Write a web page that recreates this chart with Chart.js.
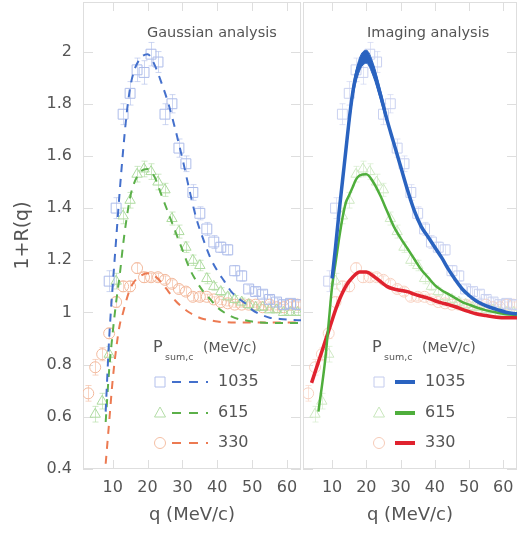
<!DOCTYPE html>
<html>
<head>
<meta charset="utf-8">
<script src="https://cdn.jsdelivr.net/npm/chart.js@4.4.0/dist/chart.umd.min.js"></script>
<style>
  body { margin: 0; background: #fff; }
  #wrap { position: relative; width: 519px; height: 533px; }
  #gaussCanvas { position: absolute; left: 0; top: 0; }
  #imagingCanvas { position: absolute; left: 302px; top: 0; }
</style>
</head>
<body>
<div id="wrap">
  <canvas id="gaussCanvas" width="302" height="533"></canvas>
  <canvas id="imagingCanvas" width="217" height="533"></canvas>
</div>
<script>
// measured correlation functions, q in MeV/c
const qData = [3, 5, 7, 9, 11, 13, 15, 17, 19, 21, 23, 25, 27, 29, 31, 33, 35, 37, 39, 41, 43, 45, 47, 49, 51, 53, 55, 57, 59, 61, 63];
const data1035 = [null, null, null, 1.12, 1.40, 1.76, 1.84, 1.93, 1.92, 1.99, 1.96, 1.76, 1.80, 1.63, 1.57, 1.46, 1.38, 1.32, 1.27, 1.25, 1.24, 1.16, 1.14, 1.09, 1.08, 1.07, 1.05, 1.04, 1.03, 1.035, 1.03];
const data615 = [null, 0.61, 0.66, 0.84, 1.12, 1.37, 1.43, 1.53, 1.55, 1.54, 1.50, 1.47, 1.36, 1.31, 1.25, 1.20, 1.18, 1.13, 1.10, 1.08, 1.06, 1.05, 1.04, 1.03, 1.02, 1.02, 1.01, 1.01, 1.00, 1.00, 1.00];
const data330 = [0.69, 0.79, 0.84, 0.92, 1.04, 1.10, 1.10, 1.17, 1.135, 1.135, 1.135, 1.125, 1.11, 1.09, 1.08, 1.06, 1.06, 1.06, 1.05, 1.04, 1.035, 1.03, 1.03, 1.03, 1.03, 1.02, 1.03, 1.02, 1.02, 1.03, 1.03];

// statistical errors on the measured points
const err1035 = [null, null, null, 0.04, 0.04, 0.04, 0.045, 0.045, 0.045, 0.045, 0.04, 0.04, 0.035, 0.035, 0.03, 0.03, 0.025, 0.025, 0.025, 0.02, 0.02, 0.02, 0.02, 0.015, 0.015, 0.015, 0.015, 0.015, 0.015, 0.015, 0.015];
const err615 = [null, 0.03, 0.03, 0.03, 0.03, 0.03, 0.03, 0.03, 0.03, 0.03, 0.03, 0.025, 0.025, 0.025, 0.02, 0.02, 0.02, 0.02, 0.015, 0.015, 0.015, 0.015, 0.015, 0.015, 0.01, 0.01, 0.01, 0.01, 0.01, 0.01, 0.01];
const err330 = [0.03, 0.03, 0.025, 0.02, 0.02, 0.02, 0.02, 0.02, 0.02, 0.015, 0.015, 0.015, 0.015, 0.015, 0.015, 0.015, 0.015, 0.01, 0.01, 0.01, 0.01, 0.01, 0.01, 0.01, 0.01, 0.01, 0.01, 0.01, 0.01, 0.01, 0.01];

// Gaussian source fits
const qGauss = [8, 9, 10, 11, 12, 13, 14, 15, 16, 18, 20, 22, 24, 26, 28, 30, 32, 34, 36, 38, 40, 42, 44, 46, 48, 50, 52, 55, 58, 61, 64];
const gauss1035 = [0.62, 0.90, 1.10, 1.28, 1.46, 1.62, 1.76, 1.86, 1.92, 1.975, 1.99, 1.95, 1.88, 1.80, 1.70, 1.59, 1.47, 1.36, 1.28, 1.21, 1.16, 1.12, 1.08, 1.055, 1.035, 1.01, 0.995, 0.98, 0.975, 0.972, 0.97];
const gauss615 = [0.58, 0.78, 0.92, 1.04, 1.14, 1.26, 1.36, 1.44, 1.49, 1.54, 1.55, 1.52, 1.45, 1.38, 1.31, 1.24, 1.17, 1.12, 1.08, 1.05, 1.02, 1.00, 0.985, 0.975, 0.97, 0.965, 0.962, 0.96, 0.96, 0.96, 0.96];
const gauss330 = [0.42, 0.58, 0.74, 0.86, 0.95, 1.00, 1.05, 1.09, 1.115, 1.14, 1.15, 1.14, 1.115, 1.08, 1.045, 1.02, 1.00, 0.985, 0.975, 0.97, 0.965, 0.963, 0.962, 0.962, 0.962, 0.962, 0.962, 0.962, 0.962, 0.962, 0.962];

// imaged source curves
const qImg = [4, 6, 8, 9, 10, 11, 12, 13, 14, 15, 16, 17, 18, 20, 22, 24, 26, 28, 30, 32, 34, 36, 38, 40, 42, 44, 46, 48, 50, 52, 55, 58, 61, 64];
const img1035 = [null, null, null, null, 1.13, 1.25, 1.38, 1.50, 1.62, 1.74, 1.84, 1.91, 1.95, 1.98, 1.93, 1.84, 1.74, 1.65, 1.56, 1.47, 1.39, 1.33, 1.29, 1.25, 1.21, 1.165, 1.125, 1.09, 1.065, 1.045, 1.025, 1.012, 1.0, 0.995];
const img615 = [null, 0.62, 0.82, 0.96, 1.10, 1.19, 1.28, 1.36, 1.42, 1.45, 1.48, 1.51, 1.525, 1.53, 1.50, 1.45, 1.39, 1.33, 1.285, 1.245, 1.205, 1.165, 1.135, 1.105, 1.085, 1.07, 1.055, 1.04, 1.03, 1.02, 1.008, 1.0, 0.993, 0.99];
const img330 = [0.73, 0.81, 0.89, 0.93, 0.97, 1.01, 1.045, 1.075, 1.10, 1.12, 1.135, 1.148, 1.155, 1.155, 1.14, 1.12, 1.10, 1.09, 1.085, 1.08, 1.07, 1.062, 1.055, 1.045, 1.037, 1.03, 1.022, 1.012, 1.003, 0.995, 0.988, 0.982, 0.98, 0.98];

// uncertainty band of the 1035 MeV/c image around its maximum
const qBand = [14, 16, 18, 20, 22, 24, 26];
const band1035Hi = [1.635, 1.86, 1.975, 2.005, 1.955, 1.86, 1.752];
const band1035Lo = [1.605, 1.82, 1.925, 1.955, 1.905, 1.82, 1.728];

const seriesLabels = ['1035', '615', '330'];
const xTicks = [10, 20, 30, 40, 50, 60];
const yTicks = [0.4, 0.6, 0.8, 1.0, 1.2, 1.4, 1.6, 1.8, 2.0];

const FONT = "'DejaVu Sans', sans-serif";
const TEXT = '#555';

function toXY(qs, ys) {
  return qs.map((q, i) => ys[i] == null ? null : { x: q, y: ys[i] }).filter(Boolean);
}

function pointSet(label, ys, errs, style, color, radius) {
  const pts = qData.map((q, i) => ys[i] == null ? null : { x: q, y: ys[i], e: errs[i] }).filter(Boolean);
  return {
    type: 'scatter', label: label, data: pts,
    pointStyle: style, pointRadius: radius, pointBorderColor: color,
    pointBackgroundColor: 'rgba(255,255,255,0)', pointBorderWidth: 1,
    showLine: false, order: 2
  };
}

function curveSet(label, qs, ys, color, width, dash) {
  return {
    type: 'line', label: label, data: toXY(qs, ys),
    borderColor: color, borderWidth: width, borderDash: dash || [],
    pointRadius: 0, cubicInterpolationMode: 'monotone', fill: false, order: 1
  };
}

// no overhang padding: the plot box is fixed by the layout padding alone
function noOverhang(s) {
  s.paddingTop = 0; s.paddingBottom = 0; s.paddingLeft = 0; s.paddingRight = 0;
}

// light frame with inward ticks on all four sides
const framePlugin = {
  id: 'frame',
  beforeDatasetsDraw(chart) {
    const { ctx, chartArea: a, scales } = chart;
    ctx.save();
    ctx.strokeStyle = '#dedede';
    ctx.lineWidth = 1;
    ctx.strokeRect(a.left + 0.5, a.top + 0.5, a.width - 1, a.height - 1);
    ctx.beginPath();
    xTicks.forEach(v => {
      const px = Math.round(scales.x.getPixelForValue(v)) + 0.5;
      ctx.moveTo(px, a.top); ctx.lineTo(px, a.top + 9);
      ctx.moveTo(px, a.bottom); ctx.lineTo(px, a.bottom - 9);
    });
    yTicks.forEach(v => {
      const py = Math.round(scales.y.getPixelForValue(v)) + 0.5;
      ctx.moveTo(a.left, py); ctx.lineTo(a.left + 10, py);
      ctx.moveTo(a.right, py); ctx.lineTo(a.right - 10, py);
    });
    ctx.stroke();
    ctx.restore();
  }
};

// vertical error bars with small caps for the scatter datasets
const errorBarPlugin = {
  id: 'errorBars',
  beforeDatasetsDraw(chart) {
    const { ctx, chartArea: a, scales } = chart;
    ctx.save();
    ctx.beginPath();
    ctx.rect(a.left, a.top, a.width, a.height);
    ctx.clip();
    ctx.globalAlpha = 0.6;
    chart.data.datasets.forEach(ds => {
      if (ds.type !== 'scatter') return;
      ctx.strokeStyle = ds.pointBorderColor;
      ctx.lineWidth = 1;
      ctx.beginPath();
      ds.data.forEach(p => {
        if (!p.e) return;
        const x = Math.round(scales.x.getPixelForValue(p.x)) + 0.5;
        const y0 = scales.y.getPixelForValue(p.y + p.e);
        const y1 = scales.y.getPixelForValue(p.y - p.e);
        ctx.moveTo(x, y0); ctx.lineTo(x, y1);
        ctx.moveTo(x - 3, y0); ctx.lineTo(x + 3, y0);
        ctx.moveTo(x - 3, y1); ctx.lineTo(x + 3, y1);
      });
      ctx.stroke();
    });
    ctx.restore();
  }
};

function drawMarker(ctx, style, x, y) {
  ctx.beginPath();
  if (style === 'rect') {
    ctx.rect(x - 5, y - 5, 10, 10);
  } else if (style === 'triangle') {
    ctx.moveTo(x, y - 6); ctx.lineTo(x + 5.5, y + 4); ctx.lineTo(x - 5.5, y + 4); ctx.closePath();
  } else {
    ctx.arc(x, y, 5.5, 0, Math.PI * 2);
  }
  ctx.stroke();
}

// panel title and the momentum legend
const panelPlugin = {
  id: 'panel',
  afterDatasetsDraw(chart, args, o) {
    const { ctx } = chart;
    ctx.save();
    ctx.fillStyle = TEXT;
    ctx.textBaseline = 'middle';
    ctx.textAlign = 'left';
    ctx.font = '14.5px ' + FONT;
    ctx.fillText(o.title, o.titleX, 33);

    ctx.font = '16px ' + FONT;
    ctx.fillText('P', o.legX, 348);
    ctx.font = '9.5px ' + FONT;
    ctx.fillText(o.sub, o.legX + 12, 358);
    ctx.font = '14px ' + FONT;
    ctx.fillText('(MeV/c)', o.legX + 50, 348);

    const rows = [382, 413, 443];
    const styles = ['rect', 'triangle', 'circle'];
    rows.forEach((y, i) => {
      ctx.strokeStyle = o.markColors[i];
      ctx.lineWidth = 1;
      drawMarker(ctx, styles[i], o.legX + 7, y);
      ctx.strokeStyle = o.lineColors[i];
      ctx.lineWidth = o.lineWidth;
      ctx.setLineDash(o.dash);
      ctx.beginPath();
      ctx.moveTo(o.lineX0, y); ctx.lineTo(o.lineX1, y);
      ctx.stroke();
      ctx.setLineDash([]);
      ctx.fillStyle = TEXT;
      ctx.font = '16px ' + FONT;
      ctx.fillText(seriesLabels[i], o.textX, y);
    });
    ctx.restore();
  }
};

function panelOptions(showY, panel) {
  return {
    responsive: false,
    animation: false,
    layout: { autoPadding: false, padding: { top: 2, right: showY ? 1 : 2, left: showY ? 0 : 1, bottom: 0 } },
    plugins: { legend: { display: false }, tooltip: { enabled: false }, panel: panel },
    scales: {
      x: {
        type: 'linear', min: 1.5, max: 64,
        grid: { display: false, drawTicks: false },
        border: { display: false },
        afterBuildTicks: s => { s.ticks = xTicks.map(v => ({ value: v })); },
        ticks: { padding: 9, color: TEXT, font: { family: FONT, size: 16 }, maxRotation: 0, autoSkip: false },
        title: { display: true, text: 'q (MeV/c)', color: TEXT, font: { family: FONT, size: 18 }, padding: { top: 4, bottom: 7 } },
        afterFit: s => { s.height = 64; noOverhang(s); }
      },
      y: {
        display: showY, min: 0.4, max: 2.19,
        grid: { display: false, drawTicks: false },
        border: { display: false },
        afterBuildTicks: s => { s.ticks = yTicks.map(v => ({ value: v })); },
        ticks: { padding: 11, color: TEXT, font: { family: FONT, size: 16 }, callback: v => String(+v.toFixed(1)) },
        title: { display: true, text: '1+R(q)', color: TEXT, font: { family: FONT, size: 19 }, padding: { top: 12, bottom: 0 } },
        afterFit: s => { s.width = showY ? 83 : 0; noOverhang(s); }
      }
    }
  };
}

new Chart(document.getElementById('gaussCanvas'), {
  type: 'scatter',
  data: {
    datasets: [
      curveSet('1035 fit', qGauss, gauss1035, '#4470cc', 2, [8, 7]),
      curveSet('615 fit', qGauss, gauss615, '#5cb04a', 2, [8, 7]),
      curveSet('330 fit', qGauss, gauss330, '#ec7a52', 2, [8, 7]),
      pointSet('1035', data1035, err1035, 'rect', '#adbcea', 7),
      pointSet('615', data615, err615, 'triangle', '#addb9f', 6),
      pointSet('330', data330, err330, 'circle', '#f3b99c', 5.5)
    ]
  },
  options: panelOptions(true, {
    title: 'Gaussian analysis', titleX: 147, sub: 'sum,c', legX: 153,
    markColors: ['#b3c0ec', '#b3dca6', '#f4bfa4'],
    lineColors: ['#4470cc', '#5cb04a', '#ec7a52'],
    lineWidth: 2, dash: [9, 8], lineX0: 172, lineX1: 208, textX: 218
  }),
  plugins: [framePlugin, errorBarPlugin, panelPlugin]
});

const bandLo = curveSet('1035 band low', qBand, band1035Lo, '#2a63c0', 1);
const bandHi = curveSet('1035 band high', qBand, band1035Hi, '#2a63c0', 1);
bandHi.fill = '-1';
bandHi.backgroundColor = '#2a63c0';

new Chart(document.getElementById('imagingCanvas'), {
  type: 'scatter',
  data: {
    datasets: [
      bandLo,
      bandHi,
      curveSet('1035 image', qImg, img1035, '#2a63c0', 3.5),
      curveSet('615 image', qImg, img615, '#4fae3c', 2.5),
      curveSet('330 image', qImg, img330, '#e0222e', 3.5),
      pointSet('1035', data1035, err1035, 'rect', '#c9d1f0', 7),
      pointSet('615', data615, err615, 'triangle', '#cfe9c4', 6),
      pointSet('330', data330, err330, 'circle', '#f8d2c2', 5.5)
    ]
  },
  options: panelOptions(false, {
    title: 'Imaging analysis', titleX: 65, sub: 'sum,c', legX: 70,
    markColors: ['#c4ccee', '#c8e6bc', '#f6cbb8'],
    lineColors: ['#2a63c0', '#4fae3c', '#e0222e'],
    lineWidth: 4, dash: [], lineX0: 93, lineX1: 113, textX: 123
  }),
  plugins: [framePlugin, errorBarPlugin, panelPlugin]
});
</script>
</body>
</html>
